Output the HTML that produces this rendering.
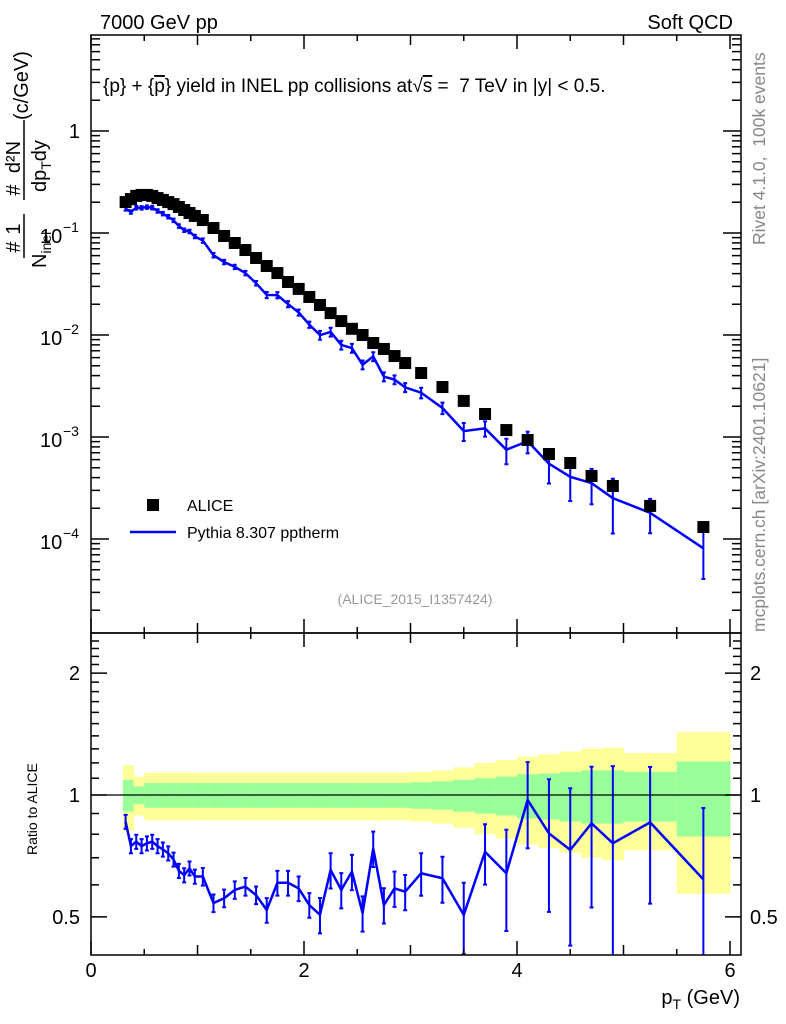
<!DOCTYPE html>
<html><head><meta charset="utf-8"><style>
body{margin:0;background:#fff}
svg{display:block;font-family:"Liberation Sans",sans-serif}
</style></head><body>
<svg id="c" width="786" height="1024" viewBox="0 0 786 1024">
<text x="100" y="29" font-size="20">7000 GeV pp</text>
<text x="733" y="29" font-size="20" text-anchor="end">Soft QCD</text>
<text transform="translate(765,245) rotate(-90)" font-size="17.5" fill="#888" xml:space="preserve">Rivet 4.1.0,  100k events</text>
<text transform="translate(765,632) rotate(-90)" font-size="17.5" fill="#888">mcplots.cern.ch [arXiv:2401.10621]</text>
<text x="103" y="92" font-size="19" xml:space="preserve">{p} + {<tspan text-decoration="overline">p</tspan>} yield in INEL pp collisions at√<tspan text-decoration="overline">s</tspan> =  7 TeV in |y| &lt; 0.5.</text>
<text x="415" y="604" font-size="14" fill="#999" text-anchor="middle">(ALICE_2015_I1357424)</text>
<g font-size="20">
<text transform="translate(20,247) rotate(-90)" text-anchor="middle">#</text>
<text transform="translate(20,229) rotate(-90)" text-anchor="middle">1</text>
<text transform="translate(46,268) rotate(-90)">N<tspan font-size="14" dy="5">inel</tspan></text>
<text transform="translate(20,190) rotate(-90)" text-anchor="middle">#</text>
<text transform="translate(20,157) rotate(-90)" text-anchor="middle">d²N</text>
<text transform="translate(46,192) rotate(-90)">dp<tspan font-size="14" dy="5">T</tspan><tspan dy="-5">dy</tspan></text>
<text transform="translate(28,120) rotate(-90)">(c/GeV)</text>
<line x1="24" y1="258" x2="24" y2="214" stroke="#000" stroke-width="1.5"/>
<line x1="24" y1="200" x2="24" y2="120" stroke="#000" stroke-width="1.5"/>
</g>
<text transform="translate(37,855) rotate(-90)" font-size="14">Ratio to ALICE</text>
<text x="740" y="1004" font-size="20" text-anchor="end">p<tspan font-size="14" dy="5">T</tspan><tspan dy="-5"> (GeV)</tspan></text>
<g id="main"></g><g id="ratio"></g>
<g>
<rect x="147" y="499" width="12" height="12" fill="#000"/>
<text x="187" y="511" font-size="16">ALICE</text>
<line x1="130" y1="532" x2="176" y2="532" stroke="#00f" stroke-width="2.5"/>
<text x="187" y="538" font-size="16">Pythia 8.307 pptherm</text>
</g>
</svg>
<script>
const binEdges=[0.3,0.35,0.4,0.45,0.5,0.55,0.6,0.65,0.7,0.75,0.8,0.85,0.9,0.95,1.0,1.1,1.2,1.3,1.4,1.5,1.6,1.7,1.8,1.9,2.0,2.1,2.2,2.3,2.4,2.5,2.6,2.7,2.8,2.9,3.0,3.2,3.4,3.6,3.8,4.0,4.2,4.4,4.6,4.8,5.0,5.5,6.0];
const aliceVals=[0.201,0.215,0.231,0.236,0.236,0.231,0.220,0.211,0.201,0.192,0.180,0.168,0.157,0.147,0.134,0.112,0.0935,0.0798,0.0681,0.0569,0.0475,0.0405,0.0331,0.0283,0.0236,0.0197,0.0164,0.0137,0.0115,0.0100,0.00835,0.00730,0.00622,0.00531,0.00424,0.00309,0.00226,0.00168,0.00117,0.000935,0.000681,0.000556,0.000415,0.000331,0.000211,0.000131];
const ratioVals=[0.859,0.748,0.767,0.748,0.760,0.767,0.748,0.734,0.718,0.693,0.650,0.634,0.659,0.629,0.629,0.541,0.556,0.583,0.594,0.566,0.520,0.607,0.607,0.588,0.535,0.506,0.653,0.583,0.647,0.511,0.738,0.535,0.588,0.577,0.641,0.623,0.506,0.724,0.641,0.972,0.804,0.732,0.851,0.760,0.856,0.619];
const mcRelErr=[0.04,0.04,0.04,0.04,0.04,0.04,0.04,0.04,0.04,0.04,0.04,0.04,0.04,0.04,0.05,0.05,0.05,0.05,0.05,0.05,0.07,0.07,0.07,0.07,0.07,0.1,0.1,0.1,0.1,0.1,0.1,0.1,0.1,0.1,0.12,0.13,0.2,0.17,0.28,0.24,0.36,0.42,0.38,0.55,0.37,0.5];
const totErr=[0.185,0.185,0.11,0.11,0.134,0.134,0.134,0.134,0.134,0.134,0.134,0.134,0.134,0.134,0.135,0.135,0.135,0.135,0.135,0.135,0.135,0.135,0.135,0.135,0.135,0.135,0.135,0.135,0.135,0.135,0.135,0.135,0.135,0.135,0.14,0.15,0.17,0.2,0.22,0.245,0.26,0.28,0.30,0.31,0.27,0.43];
const statErr=[0.09,0.09,0.05,0.05,0.07,0.07,0.07,0.07,0.07,0.07,0.07,0.07,0.07,0.07,0.07,0.07,0.07,0.07,0.07,0.07,0.07,0.07,0.07,0.07,0.07,0.07,0.07,0.07,0.07,0.07,0.07,0.07,0.07,0.07,0.075,0.08,0.09,0.1,0.11,0.125,0.13,0.14,0.15,0.15,0.14,0.21];
const xTicks=[0,2,4,6];
const mainTicks=[-4,-3,-2,-1,0];
const ratioTicks=[0.5,1,2];

const NS="http://www.w3.org/2000/svg";
const L=91,R=741,T1=35,B1=633,T2=633,B2=955;
const X=v=>L+106.5*v;
const Y1=v=>131-102*Math.log10(v);
const Y2=v=>795-405*Math.log10(v);
function mk(p,tag,a){const e=document.createElementNS(NS,tag);for(const k in a)e.setAttribute(k,a[k]);p.appendChild(e);return e;}
const gm=document.getElementById('main'),gr=document.getElementById('ratio');
const cen=[];for(let i=0;i<aliceVals.length;i++)cen.push((binEdges[i]+binEdges[i+1])/2);

const clip=mk(gr,'clipPath',{id:'rc'});mk(clip,'rect',{x:L,y:T2,width:R-L,height:B2-T2});
const bands=mk(gr,'g',{'clip-path':'url(#rc)'});
for(let i=0;i<aliceVals.length;i++){
 const x0=X(binEdges[i]),x1=X(binEdges[i+1]);
 const y=mk(bands,'rect',{x:x0,y:Y2(1+totErr[i]),width:x1-x0+0.5,height:Y2(1-totErr[i])-Y2(1+totErr[i]),fill:'#ffff99'});
 
 
 const g=mk(bands,'rect',{x:x0,y:Y2(1+statErr[i]),width:x1-x0+0.5,height:Y2(1-statErr[i])-Y2(1+statErr[i]),fill:'#99ff99'});
 
 
}
mk(gr,'line',{x1:L,y1:Y2(1),x2:R,y2:Y2(1),stroke:'#000','stroke-width':1.3});
let pts=cen.map((c,i)=>X(c)+','+Y2(ratioVals[i])).join(' ');
const rl=mk(bands,'polyline',{points:pts,fill:'none',stroke:'#00f','stroke-width':2.5});


for(let i=0;i<cen.length;i++){
 const x=X(cen[i]),lo=Math.max(ratioVals[i]*(1-mcRelErr[i]),0.3),hi=ratioVals[i]*(1+mcRelErr[i]);
 const e=mk(bands,'path',{d:`M${x},${Y2(lo)}V${Y2(hi)}M${x-2},${Y2(lo)}h4M${x-2},${Y2(hi)}h4`,stroke:'#00f','stroke-width':2,fill:'none'});
 
 
}
const mcVals=aliceVals.map((a,i)=>a*ratioVals[i]);
pts=cen.map((c,i)=>X(c)+','+Y1(mcVals[i])).join(' ');
const ml=mk(gm,'polyline',{points:pts,fill:'none',stroke:'#00f','stroke-width':2.5});


for(let i=0;i<cen.length;i++){
 const x=X(cen[i]),lo=mcVals[i]*(1-mcRelErr[i]),hi=mcVals[i]*(1+mcRelErr[i]);
 const e=mk(gm,'path',{d:`M${x},${Y1(lo)}V${Y1(hi)}M${x-2},${Y1(lo)}h4M${x-2},${Y1(hi)}h4`,stroke:'#00f','stroke-width':2,fill:'none'});
 
 
}
for(let i=0;i<cen.length;i++){
 const s=mk(gm,'rect',{x:X(cen[i])-6,y:Y1(aliceVals[i])-6,width:12,height:12,fill:'#000'});
 
 
}
const ax=mk(document.getElementById('c'),'g',{stroke:'#000','stroke-width':1.5,fill:'none'});


mk(ax,'rect',{x:L,y:T1,width:R-L,height:B1-T1});
mk(ax,'rect',{x:L,y:T2,width:R-L,height:B2-T2});
let d='';
for(let v=0;v<=6.01;v+=0.5){const x=X(v);const len=(Math.abs(v%2)<0.01)?14:(Math.abs(v%1)<0.01?10:6);
 d+=`M${x},${B1}v${-len}M${x},${T1}v${len}M${x},${B2}v${-len}M${x},${T2}v${len}`;}
for(let e=-5;e<=1;e++)for(let m=1;m<10;m++){const y=Y1(m*Math.pow(10,e));if(y<T1||y>B1)continue;const len=m==1?18:9;
 d+=`M${L},${y}h${len}M${R},${y}h${-len}`;}
for(let v=0.4;v<=2.5;v+=0.1){const y=Y2(v);if(y<T2||y>B2)continue;const big=[0.5,1,2].some(t=>Math.abs(t-v)<0.01);const len=big?16:8;
 d+=`M${L},${y}h${len}M${R},${y}h${-len}`;}
mk(ax,'path',{d:d});
const tl=mk(document.getElementById('c'),'g',{'font-size':20});


xTicks.forEach(v=>{const t=mk(tl,'text',{x:X(v),y:977,'text-anchor':'middle'});t.textContent=v;});
mainTicks.forEach(e=>{const y=Y1(Math.pow(10,e));
 if(e==0){const t=mk(tl,'text',{x:80,y:y+7,'text-anchor':'end'});t.textContent='1';}
 else{const t=mk(tl,'text',{x:40,y:y+10});t.textContent='10';
  const s=mk(tl,'text',{x:63,y:y-1,'font-size':14});s.textContent='−'+(-e);}
});
ratioTicks.forEach(v=>{const y=Y2(v);
 const a=mk(tl,'text',{x:80,y:y+7,'text-anchor':'end'});a.textContent=v;
 const b=mk(tl,'text',{x:750,y:y+7});b.textContent=v;});
</script>
</body></html>
